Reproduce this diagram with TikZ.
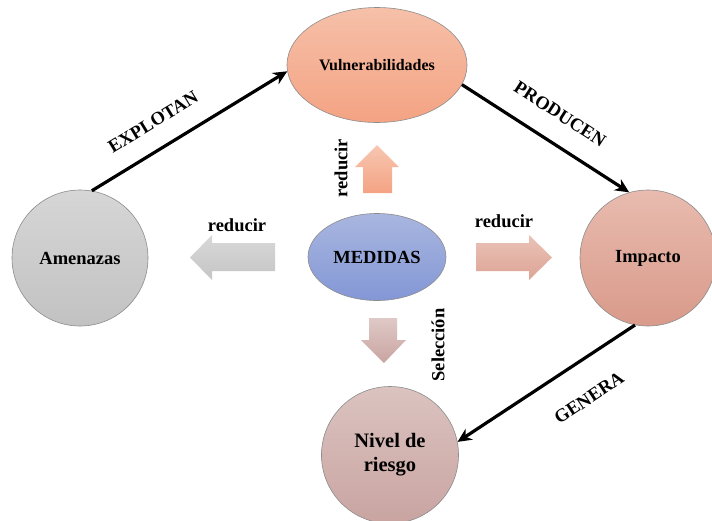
\documentclass[tikz,border=0pt]{standalone}
\usepackage{fontspec}
\setmainfont{Liberation Serif}
\usetikzlibrary{shapes.geometric,arrows.meta}
\definecolor{vulT}{HTML}{F6C0A9}
\definecolor{vulB}{HTML}{F4A383}
\definecolor{amT}{HTML}{D6D6D6}
\definecolor{amB}{HTML}{C2C2C2}
\definecolor{meT}{HTML}{A8B6DF}
\definecolor{meB}{HTML}{8497D6}
\definecolor{imT}{HTML}{E8BBAF}
\definecolor{imB}{HTML}{D99A8A}
\definecolor{niT}{HTML}{DBC3C0}
\definecolor{niB}{HTML}{C9A4A1}
\tikzset{
  blob/.style={draw=black!45, line width=0.6pt, inner sep=0pt, align=center, font=\fontsize{18.5}{20}\selectfont\bfseries},
  conn/.style={line width=3.2pt, -{Stealth[length=14pt,width=13pt]}},
  lab/.style={font=\fontsize{18.5}{20}\selectfont\bfseries, inner sep=0pt},
  blk/.style={draw=none},
}
\begin{document}
\begin{tikzpicture}[x=1pt,y=-1pt]
\useasboundingbox (0,0) rectangle (712,520);
\fill[white] (0,0) rectangle (712,520);
% nodes
\node[blob, ellipse, minimum width=180pt, minimum height=115pt, top color=vulT, bottom color=vulB, font=\fontsize{16}{18}\selectfont\bfseries] (vul) at (377,65) {Vulnerabilidades};
\node[blob, circle, minimum size=136pt, top color=amT, bottom color=amB] (amen) at (80,258) {Amenazas};
\node[blob, circle, minimum size=136pt, top color=imT, bottom color=imB] (imp) at (648,258) {Impacto};
\node[blob, circle, minimum size=137pt, top color=niT, bottom color=niB, font=\fontsize{20.5}{24}\selectfont\bfseries] (niv) at (390,455) {Nivel de\\riesgo};
\node[blob, ellipse, minimum width=138pt, minimum height=87pt, top color=meT, bottom color=meB] (med) at (377,257) {MEDIDAS};
% connectors
\draw[conn] (amen.80) -- (vul.184);
\draw[conn] (vul.-13) -- (imp.106);
\draw[conn] (imp.-101) -- (niv.11);
% connector labels
\node[lab, rotate=31.4] (lexp) at (153,122) {EXPLOTAN};
\node[lab, rotate=-32.8] (lpro) at (560,114) {PRODUCEN};
\node[lab, rotate=33.5] (lgen) at (589,398) {GENERA};
% block arrows
\shade[blk, top color=vulT!90!white, bottom color=vulB] (363,193) -- (363,167) -- (355,167) -- (377,145) -- (399,167) -- (392,167) -- (392,193) -- cycle;
\shade[blk, top color=imT!90!white, bottom color=imB!90!white] (476,243) -- (529,243) -- (529,235) -- (552,257.5) -- (529,280) -- (529,271) -- (476,271) -- cycle;
\shade[blk, top color=niT!90!white, bottom color=niB] (369,318) -- (397,318) -- (397,340) -- (406,340) -- (384,363) -- (361,340) -- (369,340) -- cycle;
\shade[blk, top color=amT!95!white, bottom color=amB!95!white] (275,243) -- (212,243) -- (212,235) -- (190,257.5) -- (212,280) -- (212,271) -- (275,271) -- cycle;
% arrow labels
\node[lab] (r1) at (237,225) {reducir};
\node[lab] (r2) at (504,221) {reducir};
\node[lab, rotate=90] (r3) at (341,168) {reducir};
\node[lab, rotate=90] (sel) at (438,345) {Selección};
\end{tikzpicture}
\end{document}
